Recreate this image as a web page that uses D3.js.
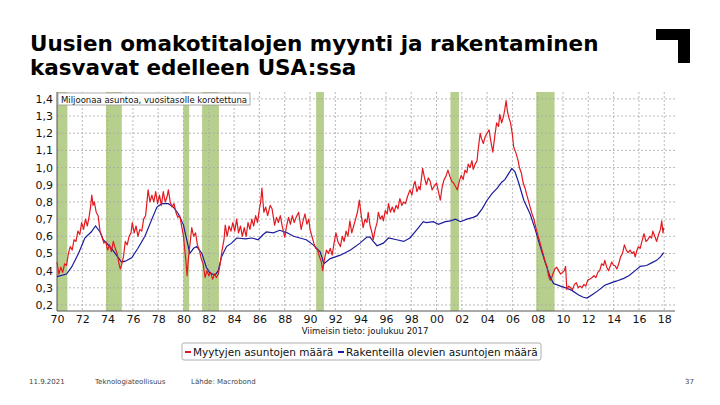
<!DOCTYPE html>
<html>
<head>
<meta charset="utf-8">
<script src="https://cdn.jsdelivr.net/npm/d3@7/dist/d3.min.js"></script>
<style>
  body { margin: 0; background: #fff; }
  svg { display: block; font-family: 'DejaVu Sans', Verdana, sans-serif; }
</style>
</head>
<body>
<div class="chart"></div>
<script>
const titleLines = [
  'Uusien omakotitalojen myynti ja rakentaminen',
  'kasvavat edelleen USA:ssa',
];
const unitNote = 'Miljoonaa asuntoa, vuositasolle korotettuna';
const lastDataNote = 'Viimeisin tieto: joulukuu 2017';
const seriesNames = ['Myytyjen asuntojen määrä', 'Rakenteilla olevien asuntojen määrä'];
const footer = ['11.9.2021', 'Teknologiateollisuus', 'Lähde: Macrobond'];
const pageNumber = '37';

const yTicks = [0.2, 0.3, 0.4, 0.5, 0.6, 0.7, 0.8, 0.9, 1.0, 1.1, 1.2, 1.3, 1.4];
const xTicks = [1970, 1972, 1974, 1976, 1978, 1980, 1982, 1984, 1986, 1988, 1990, 1992,
  1994, 1996, 1998, 2000, 2002, 2004, 2006, 2008, 2010, 2012, 2014, 2016, 2018];

// US recessions (start, end) as shaded bands
const recessions = [
  [1970.0, 1970.82], [1973.87, 1975.12], [1979.98, 1980.45], [1981.47, 1982.8],
  [1990.48, 1991.1], [2001.1, 2001.77], [2007.88, 2009.33],
];

// new home sales, million, annualized [year, value]
const sales = [
  [1970.00, 0.45], [1970.15, 0.38], [1970.30, 0.42], [1970.45, 0.39], [1970.60, 0.44],
  [1970.75, 0.43], [1970.90, 0.50], [1971.05, 0.54], [1971.20, 0.52], [1971.35, 0.58],
  [1971.50, 0.57], [1971.65, 0.63], [1971.80, 0.61], [1971.95, 0.68], [1972.10, 0.64],
  [1972.25, 0.70], [1972.40, 0.66], [1972.55, 0.72], [1972.65, 0.77], [1972.75, 0.84],
  [1972.85, 0.78], [1972.95, 0.80], [1973.10, 0.74], [1973.25, 0.72], [1973.40, 0.63],
  [1973.55, 0.60], [1973.70, 0.56], [1973.85, 0.57], [1974.00, 0.52], [1974.15, 0.55],
  [1974.30, 0.51], [1974.45, 0.57], [1974.60, 0.53], [1974.75, 0.50], [1974.90, 0.44],
  [1975.00, 0.41], [1975.10, 0.43], [1975.25, 0.48], [1975.40, 0.57], [1975.55, 0.55],
  [1975.70, 0.60], [1975.85, 0.62], [1975.95, 0.68], [1976.10, 0.62], [1976.25, 0.66],
  [1976.40, 0.60], [1976.55, 0.64], [1976.70, 0.63], [1976.85, 0.70], [1977.00, 0.72],
  [1977.10, 0.79], [1977.20, 0.87], [1977.35, 0.80], [1977.50, 0.84], [1977.65, 0.80],
  [1977.80, 0.86], [1977.95, 0.79], [1978.10, 0.84], [1978.25, 0.78], [1978.40, 0.86],
  [1978.55, 0.80], [1978.70, 0.83], [1978.80, 0.87], [1978.95, 0.80], [1979.10, 0.77],
  [1979.25, 0.79], [1979.40, 0.74], [1979.55, 0.71], [1979.70, 0.72], [1979.85, 0.66],
  [1980.00, 0.60], [1980.10, 0.52], [1980.20, 0.45], [1980.28, 0.37], [1980.40, 0.48],
  [1980.55, 0.58], [1980.65, 0.65], [1980.80, 0.60], [1980.95, 0.62], [1981.10, 0.55],
  [1981.25, 0.52], [1981.40, 0.47], [1981.55, 0.44], [1981.70, 0.36], [1981.85, 0.40],
  [1982.00, 0.37], [1982.15, 0.39], [1982.30, 0.35], [1982.45, 0.38], [1982.60, 0.36],
  [1982.75, 0.38], [1982.90, 0.44], [1983.05, 0.52], [1983.20, 0.58], [1983.30, 0.665],
  [1983.45, 0.60], [1983.60, 0.66], [1983.75, 0.63], [1983.90, 0.68], [1984.05, 0.63],
  [1984.20, 0.70], [1984.35, 0.62], [1984.50, 0.66], [1984.65, 0.60], [1984.80, 0.65],
  [1984.95, 0.60], [1985.10, 0.68], [1985.25, 0.64], [1985.40, 0.70], [1985.55, 0.66],
  [1985.70, 0.72], [1985.85, 0.68], [1986.00, 0.76], [1986.10, 0.80], [1986.20, 0.88],
  [1986.35, 0.74], [1986.50, 0.77], [1986.65, 0.72], [1986.85, 0.78], [1987.00, 0.76],
  [1987.20, 0.665], [1987.35, 0.71], [1987.50, 0.68], [1987.65, 0.72], [1987.80, 0.66],
  [1988.00, 0.595], [1988.15, 0.66], [1988.30, 0.71], [1988.45, 0.67], [1988.60, 0.72],
  [1988.75, 0.68], [1988.90, 0.71], [1989.10, 0.74], [1989.30, 0.64], [1989.45, 0.69],
  [1989.60, 0.73], [1989.75, 0.67], [1989.90, 0.70], [1990.00, 0.64], [1990.15, 0.60],
  [1990.30, 0.56], [1990.45, 0.53], [1990.60, 0.52], [1990.75, 0.48], [1990.90, 0.45],
  [1991.00, 0.40], [1991.15, 0.47], [1991.30, 0.52], [1991.45, 0.50], [1991.60, 0.53],
  [1991.75, 0.49], [1991.90, 0.56], [1992.05, 0.62], [1992.20, 0.57], [1992.40, 0.54],
  [1992.55, 0.60], [1992.70, 0.57], [1992.85, 0.63], [1993.00, 0.60], [1993.15, 0.69],
  [1993.30, 0.62], [1993.45, 0.66], [1993.60, 0.70], [1993.75, 0.74], [1993.90, 0.81],
  [1994.05, 0.72], [1994.20, 0.65], [1994.35, 0.70], [1994.50, 0.68], [1994.60, 0.74],
  [1994.75, 0.66], [1994.90, 0.62], [1995.00, 0.58], [1995.15, 0.64], [1995.30, 0.68],
  [1995.40, 0.74], [1995.55, 0.70], [1995.70, 0.72], [1995.80, 0.69], [1995.95, 0.75],
  [1996.10, 0.73], [1996.20, 0.79], [1996.35, 0.74], [1996.50, 0.77], [1996.65, 0.74],
  [1996.80, 0.78], [1996.95, 0.76], [1997.10, 0.82], [1997.25, 0.78], [1997.40, 0.80],
  [1997.55, 0.79], [1997.70, 0.83], [1997.90, 0.87], [1998.05, 0.84], [1998.20, 0.90],
  [1998.30, 0.92], [1998.45, 0.86], [1998.60, 0.89], [1998.70, 0.87], [1998.90, 0.995],
  [1999.05, 0.94], [1999.20, 0.90], [1999.35, 0.94], [1999.50, 0.92], [1999.65, 0.87],
  [1999.80, 0.89], [2000.00, 0.91], [2000.15, 0.86], [2000.30, 0.81], [2000.45, 0.89],
  [2000.60, 0.93], [2000.75, 0.95], [2000.90, 0.985], [2001.05, 0.95], [2001.20, 0.92],
  [2001.35, 0.91], [2001.50, 0.89], [2001.65, 0.87], [2001.80, 0.92], [2001.95, 0.955],
  [2002.10, 0.93], [2002.25, 0.985], [2002.40, 0.97], [2002.50, 1.02], [2002.65, 1.00],
  [2002.80, 1.04], [2002.90, 0.99], [2003.05, 1.02], [2003.20, 1.04], [2003.30, 1.11],
  [2003.45, 1.20], [2003.55, 1.17], [2003.70, 1.14], [2003.85, 1.18], [2004.00, 1.20],
  [2004.15, 1.22], [2004.30, 1.15], [2004.45, 1.09], [2004.60, 1.18], [2004.75, 1.26],
  [2004.90, 1.24], [2005.00, 1.31], [2005.15, 1.26], [2005.30, 1.30], [2005.40, 1.34],
  [2005.50, 1.39], [2005.60, 1.33], [2005.70, 1.295], [2005.85, 1.26], [2006.00, 1.19],
  [2006.10, 1.12], [2006.20, 1.10], [2006.30, 1.08], [2006.45, 1.04], [2006.55, 1.00],
  [2006.70, 0.97], [2006.85, 0.91], [2007.00, 0.88], [2007.10, 0.85], [2007.25, 0.81],
  [2007.40, 0.77], [2007.55, 0.73], [2007.70, 0.70], [2007.85, 0.65], [2008.00, 0.61],
  [2008.15, 0.57], [2008.30, 0.53], [2008.45, 0.49], [2008.60, 0.45], [2008.75, 0.42],
  [2008.85, 0.37], [2008.97, 0.345], [2009.10, 0.36], [2009.20, 0.38], [2009.35, 0.41],
  [2009.50, 0.42], [2009.65, 0.40], [2009.80, 0.38], [2009.95, 0.39], [2010.10, 0.40],
  [2010.20, 0.425], [2010.30, 0.29], [2010.45, 0.31], [2010.60, 0.30], [2010.75, 0.29],
  [2010.90, 0.32], [2011.05, 0.33], [2011.20, 0.30], [2011.35, 0.31], [2011.50, 0.30],
  [2011.65, 0.32], [2011.80, 0.31], [2011.95, 0.345], [2012.10, 0.35], [2012.30, 0.36],
  [2012.45, 0.37], [2012.60, 0.36], [2012.75, 0.39], [2012.90, 0.40], [2013.05, 0.44],
  [2013.20, 0.43], [2013.30, 0.46], [2013.45, 0.42], [2013.60, 0.40], [2013.75, 0.43],
  [2013.85, 0.45], [2014.00, 0.43], [2014.10, 0.43], [2014.25, 0.41], [2014.40, 0.44],
  [2014.55, 0.48], [2014.70, 0.50], [2014.85, 0.55], [2015.00, 0.52], [2015.15, 0.505],
  [2015.30, 0.52], [2015.45, 0.50], [2015.60, 0.51], [2015.70, 0.48], [2015.85, 0.52],
  [2015.95, 0.54], [2016.10, 0.53], [2016.20, 0.56], [2016.40, 0.615], [2016.55, 0.57],
  [2016.70, 0.58], [2016.85, 0.60], [2017.00, 0.59], [2017.10, 0.63], [2017.25, 0.60],
  [2017.40, 0.57], [2017.55, 0.61], [2017.70, 0.64], [2017.80, 0.69], [2017.90, 0.62],
  [2017.96, 0.65],
];

// homes under construction, million [year, value]
const underConstruction = [
  [1970.0, 0.365], [1970.75, 0.38], [1971.15, 0.42], [1971.7, 0.50], [1972.2, 0.59],
  [1972.7, 0.625], [1973.05, 0.66], [1973.4, 0.625], [1973.65, 0.58], [1974.2, 0.54],
  [1974.6, 0.50], [1975.1, 0.45], [1975.4, 0.455], [1975.9, 0.475], [1976.4, 0.53],
  [1976.95, 0.60], [1977.5, 0.70], [1977.9, 0.77], [1978.3, 0.79], [1978.8, 0.79],
  [1979.2, 0.77], [1979.6, 0.73], [1980.0, 0.665], [1980.25, 0.58], [1980.5, 0.50],
  [1980.8, 0.53], [1981.05, 0.54], [1981.45, 0.50], [1981.8, 0.42], [1982.1, 0.385],
  [1982.5, 0.375], [1982.75, 0.40], [1983.0, 0.48], [1983.4, 0.54], [1983.8, 0.56],
  [1984.2, 0.59], [1984.9, 0.585], [1985.4, 0.59], [1985.9, 0.58], [1986.3, 0.61],
  [1986.55, 0.625], [1987.1, 0.62], [1987.6, 0.635], [1988.2, 0.62], [1988.7, 0.60],
  [1989.2, 0.59], [1989.7, 0.58], [1990.25, 0.55], [1990.8, 0.51], [1991.1, 0.44],
  [1991.6, 0.47], [1992.4, 0.49], [1993.2, 0.52], [1993.95, 0.56], [1994.5, 0.595],
  [1994.75, 0.595], [1995.0, 0.57], [1995.3, 0.545], [1995.8, 0.56], [1996.2, 0.59],
  [1996.85, 0.58], [1997.4, 0.57], [1997.9, 0.59], [1998.4, 0.635], [1998.95, 0.685],
  [1999.2, 0.68], [1999.75, 0.685], [2000.15, 0.67], [2000.7, 0.685], [2001.1, 0.69],
  [2001.5, 0.70], [2001.9, 0.685], [2002.4, 0.70], [2002.9, 0.71], [2003.2, 0.72],
  [2003.6, 0.76], [2004.0, 0.81], [2004.4, 0.85], [2004.8, 0.88], [2005.15, 0.915],
  [2005.4, 0.93], [2005.7, 0.965], [2005.95, 0.995], [2006.2, 0.975], [2006.5, 0.91],
  [2006.9, 0.81], [2007.4, 0.73], [2007.8, 0.64], [2008.2, 0.54], [2008.6, 0.445],
  [2008.97, 0.365], [2009.25, 0.325], [2009.8, 0.31], [2010.2, 0.30], [2010.7, 0.285],
  [2011.2, 0.26], [2011.6, 0.245], [2011.9, 0.24], [2012.3, 0.26], [2012.8, 0.285],
  [2013.3, 0.315], [2013.85, 0.33], [2014.25, 0.34], [2014.8, 0.355], [2015.2, 0.37],
  [2015.7, 0.40], [2016.1, 0.425], [2016.6, 0.43], [2017.0, 0.445], [2017.4, 0.46],
  [2017.7, 0.48], [2017.96, 0.505],
];

const width = 720;
const height = 405;
const plot = { left: 57, right: 675, top: 92, bottom: 311 };

const svg = d3
  .select('.chart')
  .append('svg')
  .attr('width', width)
  .attr('height', height);

// title
svg
  .append('g')
  .selectAll('text')
  .data(titleLines)
  .enter()
  .append('text')
  .attr('x', 30)
  .attr('y', (d, i) => 51 + i * 24)
  .attr('font-size', 21.5)
  .attr('font-weight', 'bold')
  .attr('fill', '#000')
  .text((d) => d);

// logo corner
svg
  .append('path')
  .attr('d', 'M656,29H690V63H678V40H656Z')
  .attr('fill', '#000');

const x = d3.scaleLinear().domain([1970, 2018.85]).range([plot.left, plot.right]);
const y = d3.scaleLinear().domain([0.165, 1.44]).range([plot.bottom, plot.top]);

// recession bands
svg
  .append('g')
  .selectAll('rect')
  .data(recessions)
  .enter()
  .append('rect')
  .attr('x', (d) => x(d[0]))
  .attr('y', plot.top)
  .attr('width', (d) => x(d[1]) - x(d[0]))
  .attr('height', plot.bottom - plot.top)
  .attr('fill', '#b7cf8d');

// grid
const grid = svg.append('g').attr('class', 'grid');
grid
  .selectAll('.hgrid')
  .data(yTicks)
  .enter()
  .append('line')
  .attr('x1', plot.left)
  .attr('x2', plot.right)
  .attr('y1', (d) => y(d))
  .attr('y2', (d) => y(d));
grid
  .selectAll('.vgrid')
  .data(xTicks.slice(1))
  .enter()
  .append('line')
  .attr('x1', (d) => x(d))
  .attr('x2', (d) => x(d))
  .attr('y1', plot.top)
  .attr('y2', plot.bottom);
grid
  .selectAll('line')
  .attr('stroke', '#a8a8a8')
  .attr('stroke-width', 0.8)
  .attr('stroke-dasharray', '2,2');

// axes
const yAxis = svg
  .append('g')
  .attr('transform', `translate(${plot.left}, 0)`)
  .call(
    d3
      .axisLeft(y)
      .tickValues(yTicks)
      .tickSize(0)
      .tickPadding(4)
      .tickFormat((d) => d3.format('.1f')(d).replace('.', ','))
  );
const xAxis = svg
  .append('g')
  .attr('transform', `translate(0, ${plot.bottom})`)
  .call(
    d3
      .axisBottom(x)
      .tickValues(xTicks)
      .tickSize(0)
      .tickPadding(4)
      .tickFormat((d) => String(d % 100).padStart(2, '0'))
  );
svg.selectAll('.tick text').attr('font-size', 11).attr('font-family', 'DejaVu Sans').attr('fill', '#111');
yAxis.select('.domain').attr('stroke', '#555').attr('d', `M0,${plot.top}V${plot.bottom}`);
xAxis.select('.domain').attr('stroke', '#555').attr('d', `M${plot.left},0H${plot.right}`);

// lines
const line = d3
  .line()
  .x((d) => x(d[0]))
  .y((d) => y(d[1]));

svg
  .append('path')
  .datum(underConstruction)
  .attr('d', line)
  .attr('fill', 'none')
  .attr('stroke', '#1b1b9e')
  .attr('stroke-width', 1.2);

svg
  .append('path')
  .datum(sales)
  .attr('d', line)
  .attr('fill', 'none')
  .attr('stroke', '#e3191f')
  .attr('stroke-width', 1.2)
  .attr('stroke-linejoin', 'round');

// unit note box
const note = svg.append('g');
note
  .append('rect')
  .attr('x', 58)
  .attr('y', 93)
  .attr('width', 192)
  .attr('height', 12)
  .attr('fill', '#fff')
  .attr('stroke', '#999')
  .attr('stroke-width', 0.8);
note
  .append('text')
  .attr('x', 61)
  .attr('y', 102.5)
  .attr('font-size', 9)
  .attr('textLength', 186)
  .attr('lengthAdjust', 'spacingAndGlyphs')
  .attr('fill', '#111')
  .text(unitNote);

// last data note
svg
  .append('text')
  .attr('x', 365)
  .attr('y', 334)
  .attr('text-anchor', 'middle')
  .attr('font-size', 8.5)
  .attr('fill', '#111')
  .text(lastDataNote);

// legend
const legend = svg.append('g');
legend
  .append('rect')
  .attr('x', 182)
  .attr('y', 343)
  .attr('width', 359)
  .attr('height', 17)
  .attr('rx', 2)
  .attr('fill', '#fff')
  .attr('stroke', '#999')
  .attr('stroke-width', 0.8);
const legendColors = ['#e3191f', '#1b1b9e'];
const legendX = [185, 338];
seriesNames.forEach((name, i) => {
  legend
    .append('line')
    .attr('x1', legendX[i])
    .attr('x2', legendX[i] + 6)
    .attr('y1', 352)
    .attr('y2', 352)
    .attr('stroke', legendColors[i])
    .attr('stroke-width', 2);
  legend
    .append('text')
    .attr('x', legendX[i] + 8)
    .attr('y', 356)
    .attr('font-size', 10.5)
    .attr('fill', '#111')
    .text(name);
});

// footer
const footerX = [29, 95, 191];
svg
  .append('g')
  .selectAll('text')
  .data(footer)
  .enter()
  .append('text')
  .attr('x', (d, i) => footerX[i])
  .attr('y', 384)
  .attr('font-size', 7)
  .attr('fill', '#444')
  .text((d) => d);
svg
  .append('text')
  .attr('x', 694)
  .attr('y', 384)
  .attr('text-anchor', 'end')
  .attr('font-size', 7)
  .attr('fill', '#444')
  .text(pageNumber);
</script>
</body>
</html>
